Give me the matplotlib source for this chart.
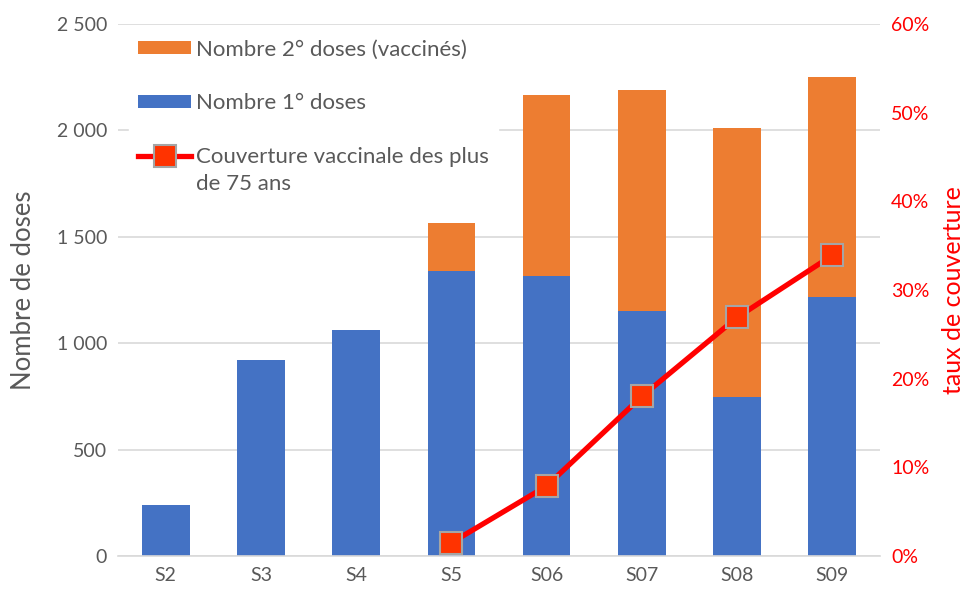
import numpy as np
import matplotlib.pyplot as plt
from matplotlib.ticker import FuncFormatter

# données
semaines = ["S2", "S3", "S4", "S5", "S06", "S07", "S08", "S09"]
doses_1 = [240, 922, 1060, 1338, 1314, 1153, 745, 1219]
doses_2 = [0, 0, 0, 226, 851, 1035, 1264, 1030]
couverture = [np.nan, np.nan, np.nan, 1.5, 7.9, 18.0, 26.9, 33.9]

plt.rcParams['font.family'] = ['Lato', 'DejaVu Sans']

gris = "#595959"
rouge = "#FF0000"

fig = plt.figure(figsize=(9.68, 5.96), dpi=100)
ax = fig.add_axes([0.122, 0.067, 0.787, 0.893])
ax2 = ax.twinx()

x = np.arange(len(semaines))
b1 = ax.bar(x, doses_1, width=0.5, color="#4472C4", label="Nombre 1° doses", zorder=2)
b2 = ax.bar(x, doses_2, width=0.5, bottom=doses_1, color="#ED7D31",
            label="Nombre 2° doses (vaccinés)", zorder=2)

ln, = ax2.plot(x, couverture, color=rouge, lw=3.8, marker="s", markersize=16,
               markerfacecolor="#FF3300", markeredgecolor="#A5A5A5", markeredgewidth=1.5,
               label="Couverture vaccinale des plus", zorder=5)

ax.set_xlim(-0.5, len(semaines) - 0.5)
ax.set_ylim(0, 2500)
ax.set_yticks(np.arange(0, 2501, 500))
ax.yaxis.set_major_formatter(FuncFormatter(lambda v, p: f"{int(v):,}".replace(",", " ")))
ax2.set_ylim(0, 60)
ax2.set_yticks(np.arange(0, 61, 10))
ax2.yaxis.set_major_formatter(FuncFormatter(lambda v, p: f"{int(v)}%"))

ax.set_axisbelow(True)
ax.grid(axis="y", color="#D9D9D9", lw=1.2)
for a in (ax, ax2):
    for s in a.spines.values():
        s.set_visible(False)
    a.tick_params(length=0, labelsize=14)
ax.spines["bottom"].set_visible(True)
ax.spines["bottom"].set_color("#D9D9D9")
ax.spines["bottom"].set_linewidth(1.2)

ax.set_xticks(x)
ax.set_xticklabels(semaines)
ax.tick_params(axis="both", colors=gris, pad=8)
ax2.tick_params(axis="y", colors=rouge, pad=8)

ax.set_ylabel("Nombre de doses", color=gris, fontsize=18.5, labelpad=15)
ax2.set_ylabel("taux de couverture", color=rouge, fontsize=18, labelpad=9)

leg = ax2.legend([b2, b1, ln], [b2.get_label(), b1.get_label(), ln.get_label()],
                 loc="upper left", bbox_to_anchor=(0.0, 1.008), frameon=True,
                 facecolor="white", edgecolor="white", framealpha=1, fancybox=False,
                 fontsize=16, labelcolor=gris, handlelength=2.4, handleheight=0.55,
                 handletextpad=0.2, labelspacing=1.52, borderpad=0.4)
leg.set_zorder(10)

# deuxième ligne du libellé de la courbe, alignée sous la première
fig.canvas.draw()
t = leg.get_texts()[2]
bb = t.get_window_extent().transformed(fig.transFigure.inverted())
fig.text(bb.x0, bb.y0 - 0.011, "de 75 ans", fontsize=16, color=gris,
         va="top", ha="left", zorder=11)

fig.savefig("out.png", dpi=100)
